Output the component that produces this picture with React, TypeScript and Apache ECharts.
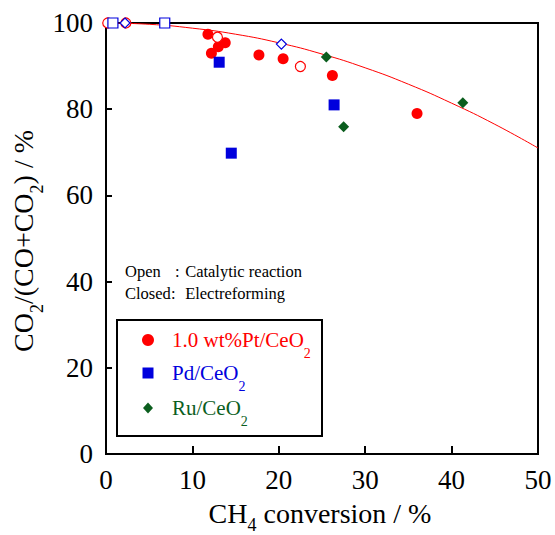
import React, { useEffect, useRef } from "react";
import * as echarts from "echarts";

// CH4 conversion (%) vs CO2 selectivity (%) for each catalyst.
// Closed symbols: electroreforming; open symbols: catalytic reaction.
const ptClosed: number[][] = [
  [11.8, 97.4], [13.8, 95.4], [13.0, 94.5], [12.2, 93.0],
  [17.7, 92.6], [20.5, 91.7], [26.2, 87.8], [36.0, 79.0],
];
const ptOpen: number[][] = [[0.2, 100], [2.3, 100], [12.9, 96.7], [22.5, 89.9]];
const pdClosed: number[][] = [[13.1, 90.9], [14.5, 69.8], [26.4, 81.0]];
const pdOpen: number[][] = [[0.8, 100], [6.8, 100]];
const ruClosed: number[][] = [[25.5, 92.1], [27.5, 75.9], [41.3, 81.5]];
const ruOpen: number[][] = [[2.2, 100], [20.3, 95.1]];

// Equilibrium-type guide curve
const curveX = [0, 5, 10, 15, 20, 25, 30, 35, 40, 45, 50];
const curveY = [100, 99.7, 98.8, 97.4, 95.4, 92.8, 89.6, 85.8, 81.4, 76.5, 71.0];

const xTicks = [0, 10, 20, 30, 40, 50];
const yTicks = [0, 20, 40, 60, 80, 100];

// Legend entries: label text before the subscript, subscript
const legendLabels = ["1.0 wt%Pt/CeO", "Pd/CeO", "Ru/CeO"];
const legendSub = "2";

const RED = "#ff0000";
const BLUE = "#0000dd";
const GREEN = "#0b5e1e";
const SERIF = "'Liberation Serif', 'Times New Roman', serif";

export default function App() {
  const ref = useRef<HTMLDivElement>(null);

  useEffect(() => {
    if (!ref.current) return;
    const chart = echarts.init(ref.current, null, { renderer: "svg" });

    const closed = (name: string, data: number[][], symbol: string, color: string, size: number) => ({
      name,
      type: "scatter",
      data,
      symbol,
      symbolSize: size,
      clip: false,
      itemStyle: { color, opacity: 1 },
      z: 3,
    });
    const open = (name: string, data: number[][], symbol: string, color: string, size: number) => ({
      name,
      type: "scatter",
      data,
      symbol,
      symbolSize: size,
      clip: false,
      itemStyle: { color: "#ffffff", borderColor: color, borderWidth: 1.2, opacity: 1 },
      z: 4,
    });

    // Subscripts: a top padding on the small token pushes its glyphs down by half the padding
    const titleRich = (pad: number) => ({
      n: { fontFamily: SERIF, fontSize: 28, fill: "#000" },
      s: { fontFamily: SERIF, fontSize: 18, padding: [pad, 0, 0, 0], fill: "#000" },
    });
    const legendRich = (color: string) => ({
      n: { fontFamily: SERIF, fontSize: 21, fill: color },
      s: { fontFamily: SERIF, fontSize: 14, padding: [26, 0, 0, 0], fill: color },
    });

    // Legend box contents
    const legendColors = [RED, BLUE, GREEN];
    const rowY = [340, 373, 408];
    const iconX = 148;
    const textX = 172;
    const legendIcons = [
      {
        type: "circle",
        shape: { cx: iconX, cy: rowY[0], r: 6 },
        style: { fill: legendColors[0] },
      },
      {
        type: "rect",
        shape: { x: iconX - 5.5, y: rowY[1] - 5.5, width: 11, height: 11 },
        style: { fill: legendColors[1] },
      },
      {
        type: "polygon",
        shape: {
          points: [
            [iconX, rowY[2] - 5.5],
            [iconX + 5, rowY[2]],
            [iconX, rowY[2] + 5.5],
            [iconX - 5, rowY[2]],
          ],
        },
        style: { fill: legendColors[2] },
      },
    ];
    const legendTexts = legendLabels.map((label, i) => ({
      type: "text",
      x: textX,
      y: rowY[i],
      style: {
        text: `{n|${label}}{s|${legendSub}}`,
        verticalAlign: "middle",
        fill: legendColors[i],
        rich: legendRich(legendColors[i]),
      },
    }));

    const noteRich = (nameWidth: number, colonWidth: number) => ({
      a: { fontFamily: SERIF, fontSize: 16.5, width: nameWidth, fill: "#000" },
      c: { fontFamily: SERIF, fontSize: 16.5, width: colonWidth, fill: "#000" },
      v: { fontFamily: SERIF, fontSize: 16.5, fill: "#000" },
    });

    chart.setOption({
      animation: false,
      backgroundColor: "#ffffff",
      grid: {
        left: 106,
        right: 17,
        top: 23,
        bottom: 81,
        show: true,
        borderColor: "#000",
        borderWidth: 2,
        backgroundColor: "transparent",
      },
      xAxis: {
        type: "value",
        min: xTicks[0],
        max: xTicks[xTicks.length - 1],
        interval: 10,
        axisLine: { show: true, lineStyle: { color: "#000", width: 2 } },
        axisTick: { show: true, inside: true, length: 8, lineStyle: { color: "#000", width: 2 } },
        axisLabel: { fontFamily: SERIF, fontSize: 27, color: "#000", margin: 12 },
        splitLine: { show: false },
      },
      yAxis: {
        type: "value",
        min: yTicks[0],
        max: yTicks[yTicks.length - 1],
        interval: 20,
        axisLine: { show: true, lineStyle: { color: "#000", width: 2 } },
        axisTick: { show: true, inside: true, length: 6, lineStyle: { color: "#000", width: 2 } },
        axisLabel: { fontFamily: SERIF, fontSize: 27, color: "#000", margin: 13 },
        splitLine: { show: false },
      },
      series: [
        {
          name: "curve",
          type: "line",
          data: curveX.map((x, i) => [x, curveY[i]]),
          smooth: true,
          showSymbol: false,
          symbol: "none",
          lineStyle: { color: RED, width: 1 },
          z: 2,
        },
        closed("Pt", ptClosed, "circle", RED, 11),
        closed("Pd", pdClosed, "rect", BLUE, 11),
        closed("Ru", ruClosed, "diamond", GREEN, 11),
        open("Pt open", ptOpen, "circle", RED, 10),
        open("Pd open", pdOpen, "rect", BLUE, 10),
        open("Ru open", ruOpen, "diamond", BLUE, 10),
      ],
      graphic: [
        {
          type: "text",
          x: 320,
          y: 513,
          style: {
            text: "{n|CH}{s|4}{n| conversion / %}",
            align: "center",
            verticalAlign: "middle",
            rich: titleRich(24),
          },
        },
        {
          type: "text",
          x: 23,
          y: 241,
          rotation: Math.PI / 2,
          style: {
            text: "{n|CO}{s|2}{n|/(CO+CO}{s|2}{n|) / %}",
            align: "center",
            verticalAlign: "middle",
            rich: titleRich(28),
          },
        },
        {
          type: "text",
          x: 125,
          y: 271,
          style: {
            text: "{a|Open}{c|:}{v| Catalytic reaction}",
            verticalAlign: "middle",
            rich: noteRich(50, 6),
          },
        },
        {
          type: "text",
          x: 125,
          y: 293,
          style: {
            text: "{a|Closed}{c|:}{v| Electreforming}",
            verticalAlign: "middle",
            rich: noteRich(46, 10),
          },
        },
        {
          type: "rect",
          shape: { x: 117, y: 320, width: 205, height: 116 },
          style: { fill: "none", stroke: "#000", lineWidth: 2 },
        },
        ...legendIcons,
        ...legendTexts,
      ],
    });

    return () => chart.dispose();
  }, []);

  return (
    <div
      ref={ref}
      style={{ position: "fixed", left: 0, top: 0, width: 555, height: 535, background: "#fff" }}
    />
  );
}
